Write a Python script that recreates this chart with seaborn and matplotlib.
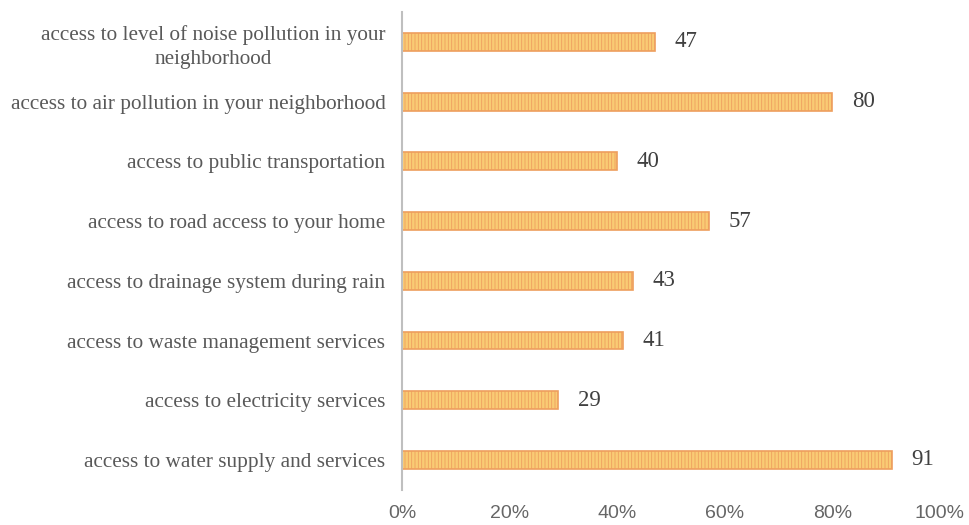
import pandas as pd
import numpy as np
import matplotlib.pyplot as plt
import seaborn as sns

# Data (top to bottom as shown)
services = [
    'access to level of noise pollution in your\nneighborhood',
    'access to air pollution in your neighborhood',
    'access to public transportation',
    'access to road access to your home',
    'access to drainage system during rain',
    'access to waste management services',
    'access to electricity services',
    'access to water supply and services',
]
percent = [47, 80, 40, 57, 43, 41, 29, 91]
x_ticks = [0, 20, 40, 60, 80, 100]
x_tick_labels = ['0%', '20%', '40%', '60%', '80%', '100%']

df = pd.DataFrame({'Service': services, 'Percent': percent})

sns.set_style('white')
plt.rcParams['hatch.linewidth'] = 0.6

fig, ax = plt.subplots(figsize=(9.69, 5.25), dpi=100)
sns.barplot(data=df, x='Percent', y='Service', orient='h', width=0.3,
            color='#F9CB74', edgecolor='#EE9E5E', linewidth=1.2, saturation=1,
            hatch='|||||', ax=ax)

# value labels
for bar, val in zip(ax.patches, percent):
    ax.annotate(str(val), (bar.get_width(), bar.get_y() + bar.get_height() / 2),
                xytext=(14, 0), textcoords='offset points', va='center', ha='left',
                fontsize=16.5, family='Liberation Serif', color='#404040')

ax.set_xlim(0, 100)
ax.set_xticks(x_ticks)
ax.set_xticklabels(x_tick_labels, fontsize=14, family='Liberation Sans', color='#666666')
ax.set_yticklabels(ax.get_yticklabels(), fontsize=15.3, family='Liberation Serif',
                   color='#595959', multialignment='center', linespacing=1.35)
ax.tick_params(axis='both', length=0)
ax.tick_params(axis='y', pad=12)
ax.tick_params(axis='x', pad=11)
ax.set_xlabel('')
ax.set_ylabel('')

for side in ['top', 'right', 'bottom']:
    ax.spines[side].set_visible(False)
ax.spines['left'].set_color('#BFBFBF')
ax.spines['left'].set_linewidth(1.5)

plt.subplots_adjust(left=0.415, right=0.970, top=0.977, bottom=0.067)
plt.savefig('out.png', dpi=100)
